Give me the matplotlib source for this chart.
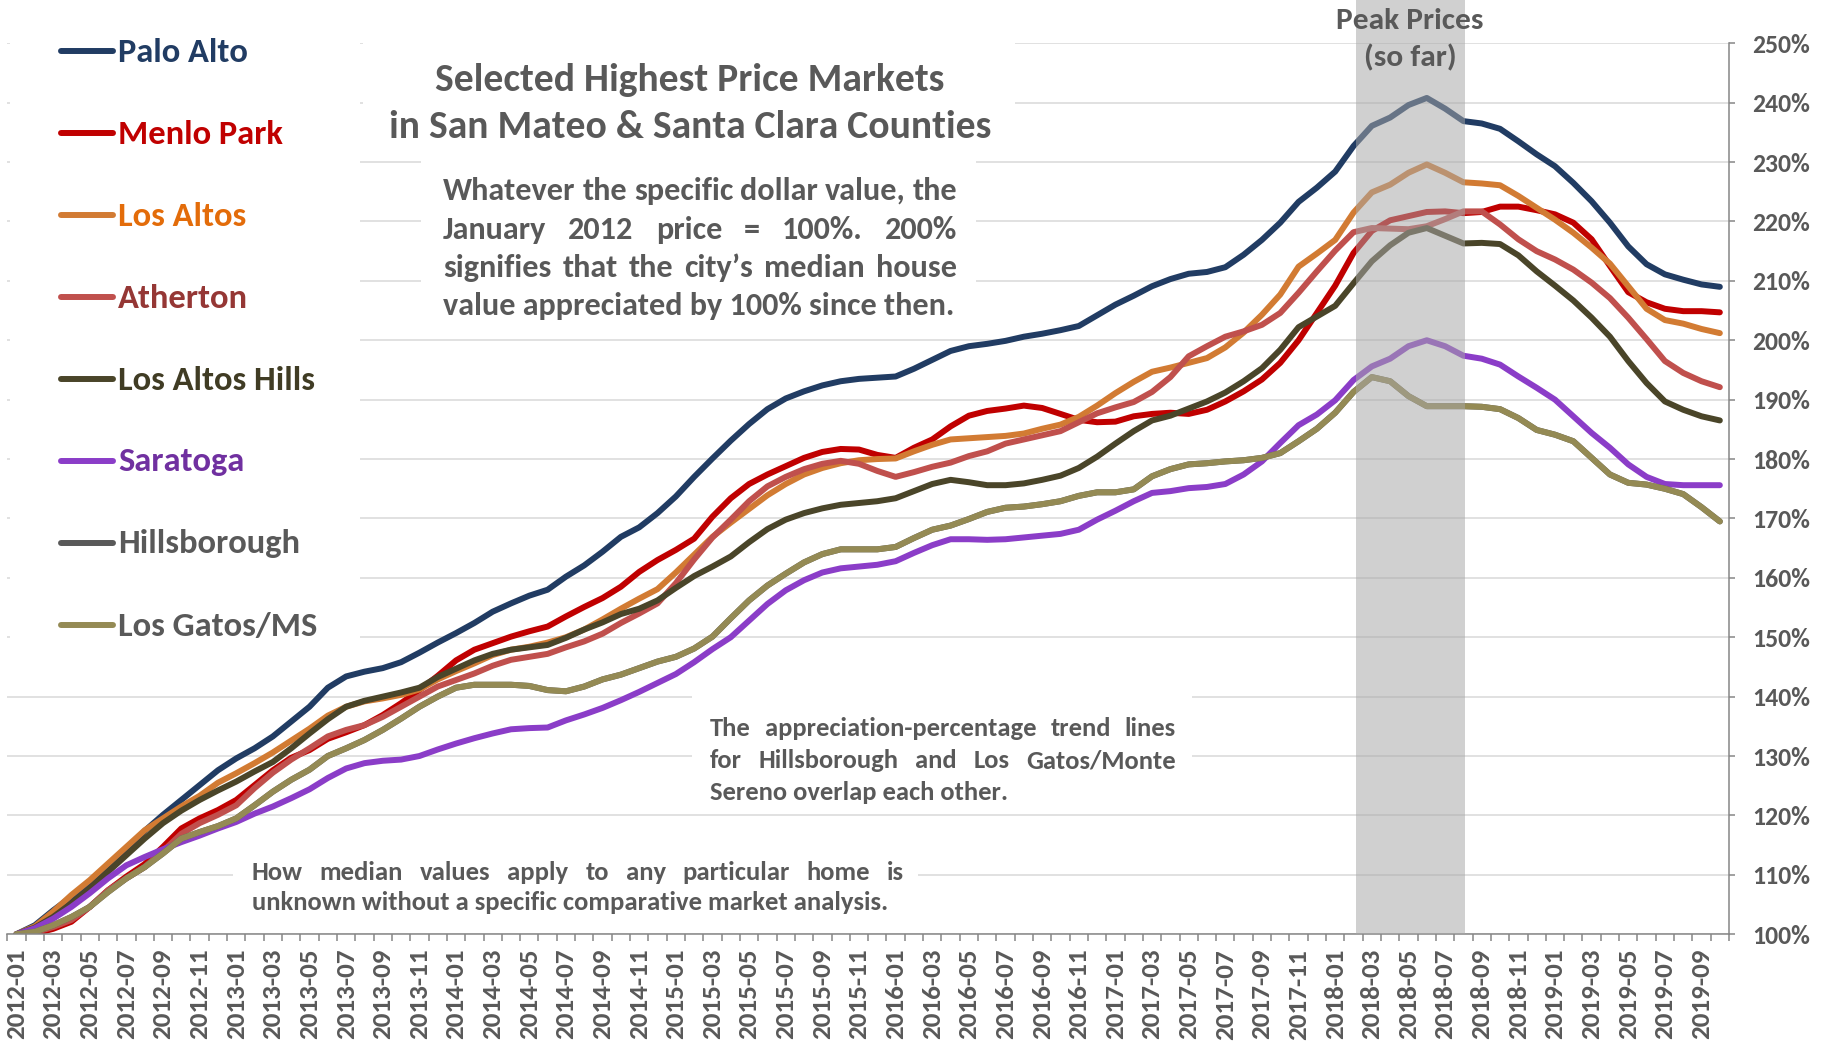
import matplotlib
matplotlib.use("Agg")
import matplotlib.pyplot as plt
import matplotlib.transforms as mtransforms
from matplotlib import font_manager
from matplotlib.patches import Rectangle
from matplotlib.lines import Line2D

# ---- data (percent of Jan 2012 median value) ----
months = [f"{y}-{m:02d}" for y in range(2012, 2020) for m in range(1, 13)][:94]

palo_alto = [100.0, 101.5, 104.0, 106.3, 108.3, 111.1, 113.9, 117.4, 120.1, 122.6,
             125.1, 127.6, 129.6, 131.3, 133.3, 135.8, 138.3, 141.5, 143.4, 144.2,
             144.8, 145.8, 147.4, 149.1, 150.7, 152.4, 154.3, 155.7, 157.0, 158.0,
             160.2, 162.1, 164.4, 166.9, 168.5, 170.9, 173.7, 177.0, 180.1, 183.1,
             185.9, 188.4, 190.2, 191.4, 192.4, 193.1, 193.5, 193.7, 193.9, 195.2,
             196.7, 198.2, 199.0, 199.4, 199.9, 200.6, 201.1, 201.7, 202.4, 204.2,
             206.0, 207.5, 209.1, 210.3, 211.2, 211.5, 212.3, 214.4, 216.9, 219.8,
             223.3, 225.7, 228.4, 232.7, 236.1, 237.5, 239.6, 240.8, 239.0, 236.9,
             236.5, 235.6, 233.5, 231.3, 229.3, 226.5, 223.4, 219.8, 215.8, 212.8,
             211.1, 210.2, 209.4, 209.0]

menlo_park = [100.0, 100.1, 100.9, 102.1, 104.6, 107.4, 109.7, 111.8, 114.7, 117.8,
              119.5, 120.9, 122.6, 125.1, 127.6, 129.7, 131.0, 132.9, 134.0, 135.2,
              136.9, 138.9, 141.1, 143.5, 146.1, 147.9, 149.0, 150.1, 151.0, 151.8,
              153.5, 155.1, 156.6, 158.5, 161.0, 163.0, 164.7, 166.6, 170.3, 173.4,
              175.8, 177.4, 178.8, 180.2, 181.2, 181.7, 181.6, 180.7, 180.2, 181.9,
              183.3, 185.5, 187.3, 188.1, 188.5, 189.0, 188.6, 187.6, 186.6, 186.2,
              186.3, 187.2, 187.6, 187.8, 187.6, 188.3, 189.7, 191.4, 193.4, 196.2,
              200.0, 204.6, 209.2, 214.7, 218.4, 220.2, 220.9, 221.6, 221.7, 221.4,
              221.6, 222.5, 222.5, 221.9, 221.2, 219.8, 217.0, 212.5, 208.1, 206.4,
              205.3, 204.9, 204.9, 204.7]

los_altos = [100.0, 101.3, 103.8, 106.6, 109.1, 111.9, 114.7, 117.5, 119.5, 121.5,
             123.3, 125.5, 127.1, 128.8, 130.6, 132.6, 134.6, 136.8, 138.3, 139.2,
             139.7, 140.3, 141.2, 142.9, 144.3, 145.6, 147.0, 147.9, 148.4, 149.1,
             150.0, 151.3, 153.0, 154.8, 156.5, 158.1, 160.9, 163.9, 166.9, 169.3,
             171.6, 173.9, 175.8, 177.4, 178.5, 179.3, 179.8, 180.0, 180.1, 181.3,
             182.4, 183.3, 183.5, 183.7, 183.9, 184.3, 185.1, 185.8, 187.1, 189.0,
             191.1, 193.0, 194.7, 195.4, 196.2, 197.0, 198.8, 201.3, 204.3, 207.7,
             212.4, 214.6, 216.9, 221.5, 224.9, 226.2, 228.2, 229.6, 228.2, 226.6,
             226.4, 226.1, 224.3, 222.3, 220.3, 218.1, 215.6, 212.9, 209.1, 205.3,
             203.4, 202.8, 201.9, 201.2]

atherton = [100.0, 100.3, 101.2, 102.4, 104.6, 107.4, 109.4, 111.3, 114.0, 116.9,
            118.7, 120.1, 121.7, 124.6, 127.2, 129.4, 131.3, 133.3, 134.4, 135.2,
            136.6, 138.3, 140.0, 141.7, 142.8, 143.9, 145.2, 146.2, 146.7, 147.2,
            148.3, 149.3, 150.6, 152.4, 154.0, 155.7, 159.1, 163.1, 166.8, 169.8,
            172.9, 175.4, 177.0, 178.3, 179.2, 179.7, 179.2, 178.0, 177.0, 177.8,
            178.7, 179.4, 180.5, 181.3, 182.6, 183.3, 184.0, 184.7, 186.2, 187.7,
            188.7, 189.6, 191.3, 193.8, 197.3, 199.0, 200.6, 201.5, 202.6, 204.6,
            208.0, 211.6, 215.1, 218.2, 218.9, 218.8, 218.7, 219.2, 220.4, 221.7,
            221.7, 219.5, 217.0, 215.0, 213.6, 211.9, 209.7, 207.1, 203.8, 200.2,
            196.5, 194.5, 193.1, 192.1]

los_altos_hills = [100.0, 101.1, 102.9, 105.2, 107.7, 110.5, 113.3, 116.1, 118.7, 120.8,
                   122.6, 124.2, 125.7, 127.4, 129.0, 131.3, 133.8, 136.2, 138.3, 139.3,
                   140.0, 140.7, 141.5, 143.3, 144.7, 146.1, 147.2, 147.9, 148.3, 148.7,
                   149.9, 151.3, 152.5, 153.9, 154.8, 156.2, 158.3, 160.3, 161.9, 163.6,
                   166.0, 168.2, 169.8, 170.9, 171.7, 172.3, 172.6, 172.9, 173.4, 174.6,
                   175.8, 176.5, 176.1, 175.6, 175.6, 175.9, 176.5, 177.2, 178.5, 180.4,
                   182.6, 184.7, 186.5, 187.3, 188.5, 189.7, 191.2, 193.1, 195.3, 198.4,
                   202.2, 204.0, 205.8, 209.6, 213.3, 216.0, 218.1, 218.9, 217.6, 216.3,
                   216.4, 216.2, 214.3, 211.6, 209.2, 206.7, 203.8, 200.6, 196.5, 192.8,
                   189.7, 188.3, 187.2, 186.5]

saratoga = [100.0, 101.0, 102.6, 104.6, 106.9, 109.4, 111.6, 113.0, 114.3, 115.5,
            116.6, 117.8, 118.9, 120.3, 121.5, 122.9, 124.4, 126.3, 127.9, 128.8,
            129.2, 129.4, 130.0, 131.1, 132.1, 133.0, 133.8, 134.5, 134.7, 134.8,
            136.0, 137.0, 138.1, 139.4, 140.8, 142.3, 143.8, 145.8, 148.0, 150.0,
            152.8, 155.6, 157.9, 159.6, 160.9, 161.6, 161.9, 162.2, 162.8, 164.2,
            165.5, 166.5, 166.5, 166.4, 166.5, 166.8, 167.1, 167.4, 168.1, 169.8,
            171.3, 172.9, 174.3, 174.6, 175.1, 175.3, 175.8, 177.4, 179.6, 182.7,
            185.7, 187.5, 189.9, 193.3, 195.6, 196.9, 199.0, 200.0, 199.0, 197.4,
            196.9, 195.9, 193.9, 192.0, 190.0, 187.2, 184.4, 181.9, 179.1, 177.0,
            175.8, 175.6, 175.6, 175.6]

los_gatos = [100.0, 100.4, 101.5, 102.9, 104.6, 107.1, 109.4, 111.3, 113.6, 116.1,
             117.2, 118.2, 119.5, 121.7, 124.0, 126.0, 127.7, 130.0, 131.3, 132.7,
             134.4, 136.3, 138.3, 140.0, 141.5, 142.0, 142.0, 142.0, 141.8, 141.1,
             140.9, 141.7, 142.9, 143.7, 144.8, 145.9, 146.7, 148.1, 150.1, 153.2,
             156.2, 158.7, 160.7, 162.6, 164.0, 164.8, 164.8, 164.8, 165.2, 166.7,
             168.1, 168.8, 169.9, 171.1, 171.8, 172.0, 172.4, 172.9, 173.8, 174.4,
             174.4, 174.9, 177.1, 178.3, 179.1, 179.3, 179.6, 179.8, 180.2, 181.0,
             183.0, 185.1, 187.8, 191.3, 193.8, 193.1, 190.6, 188.9, 188.9, 188.9,
             188.8, 188.4, 186.9, 184.9, 184.1, 183.0, 180.2, 177.4, 176.0, 175.7,
             175.0, 174.1, 171.9, 169.5]

# Hillsborough is hidden under Los Gatos/MS on the chart (the two coincide)
hillsborough = list(los_gatos)

names = ["Palo Alto", "Menlo Park", "Los Altos", "Atherton", "Los Altos Hills",
         "Saratoga", "Hillsborough", "Los Gatos/MS"]
series = [palo_alto, menlo_park, los_altos, atherton, los_altos_hills,
          saratoga, hillsborough, los_gatos]
line_colors = ["#213C63", "#C00000", "#D27B33", "#C0504D", "#4A4529",
               "#8B3DC8", "#595959", "#948A54"]
text_colors = ["#213C63", "#C00000", "#E36C0A", "#953735", "#403C24",
               "#7030A0", "#595959", "#595959"]

# ---- fonts ----
installed = {f.name for f in font_manager.fontManager.ttflist}
FONT = "Carlito" if "Carlito" in installed else "Lato"
plt.rcParams["font.family"] = [FONT, "DejaVu Sans"]
plt.rcParams["font.weight"] = "bold"
GRAY = "#595959"
AXIS = "#868686"

W, H = 1833, 1045
fig = plt.figure(figsize=(W / 100, H / 100), dpi=100)
ax = fig.add_axes([7.3 / W, 1 - 934.2 / H, (1729 - 7.3) / W, (934.2 - 43.3) / H])
# pixel coordinates of the picture (y down from the top)
px = mtransforms.Affine2D().scale(1 / W, -1 / H).translate(0, 1) + fig.transFigure
renderer = fig.canvas.get_renderer()


def width_of(s, size):
    t = fig.text(0, 0, s, fontsize=size, fontweight="bold")
    w = t.get_window_extent(renderer).width
    t.remove()
    return w


def fit(s, target):
    return 20 * target / width_of(s, 20)


def justified(lines, x0, x1, ys, size):
    for i, (line, y) in enumerate(zip(lines, ys)):
        if i == len(lines) - 1:
            fig.text(x0 / W, 1 - y / H, line, fontsize=size, color=GRAY,
                     ha="left", va="center", zorder=6)
            continue
        words = line.split()
        widths = [width_of(w_, size) for w_ in words]
        gap = (x1 - x0 - sum(widths)) / (len(words) - 1)
        x = x0
        for w_, ww in zip(words, widths):
            fig.text(x / W, 1 - y / H, w_, fontsize=size, color=GRAY,
                     ha="left", va="center", zorder=6)
            x += ww + gap


# ---- lines ----
x = list(range(len(months)))
for vals, c in zip(series, line_colors):
    ax.plot(x, vals, color=c, lw=4.3, solid_capstyle="round",
            solid_joinstyle="round", zorder=2)

# peak band drawn over the lines, reaching above the plot area
ax.axvspan(73.13, 79.1, ymin=0, ymax=1.06, color="#A7A7A7", alpha=0.53,
           lw=0, zorder=4, clip_on=False)

ax.set_xlim(-0.5, len(months) - 0.5)
ax.set_ylim(100, 250)
ax.set_axisbelow(True)
ax.grid(axis="y", color="#D9D9D9", lw=1.1)

ax.set_xticks(x[::2])
ax.set_xticklabels(months[::2], rotation=90)
ax.set_xticks([k - 0.5 for k in range(len(months) + 1)], minor=True)
ax.tick_params(axis="x", which="major", length=0, pad=10.5,
               labelsize=fit("2012-01", 91), labelcolor=GRAY)
ax.tick_params(axis="x", which="minor", length=5, width=1.1, color=AXIS)

ax.yaxis.tick_right()
yt = list(range(100, 251, 10))
ax.set_yticks(yt)
ax.set_yticklabels([f"{v}%" for v in yt])
ax.tick_params(axis="y", length=4.3, width=1.1, color=AXIS, pad=12.5,
               labelsize=fit("250%", 58), labelcolor=GRAY)

for s in ["top", "left"]:
    ax.spines[s].set_visible(False)
for s in ["right", "bottom"]:
    ax.spines[s].set_color(AXIS)
    ax.spines[s].set_linewidth(1.1)

# white text boxes that cut the gridlines
for x0, y0, x1, y1 in [(10, 30, 360, 665), (363, 30, 1015, 150), (421, 150, 976, 325),
                       (692, 688, 1192, 808), (233, 850, 918, 925)]:
    ax.add_patch(Rectangle((x0, y0), x1 - x0, y1 - y0, transform=px, fc="white",
                           ec="none", zorder=1, clip_on=False))

# ---- legend ----
leg_size = fit("Los Gatos/MS", 200)
for i, (n, lc, tc) in enumerate(zip(names, line_colors, text_colors)):
    y = 51 + i * 82
    fig.add_artist(Line2D([61, 113], [y, y], transform=px, color=lc, lw=4.3,
                          solid_capstyle="round"))
    fig.text(118 / W, 1 - (y + 1) / H, n, fontsize=leg_size, color=tc, va="center")

# ---- annotations ----
title_size = fit("in San Mateo & Santa Clara Counties", 603)
fig.text(690 / W, 1 - 80 / H, "Selected Highest Price Markets", fontsize=title_size,
         color=GRAY, ha="center", va="center")
fig.text(690 / W, 1 - 127 / H, "in San Mateo & Santa Clara Counties",
         fontsize=title_size, color=GRAY, ha="center", va="center")

para = ["Whatever the specific dollar value, the",
        "January 2012 price = 100%. 200%",
        "signifies that the city\u2019s median house",
        "value appreciated by 100% since then."]
justified(para, 443, 957, [191, 230, 268, 306], fit(para[-1], 511))

peak_size = fit("Peak Prices", 147)
fig.text(1410 / W, 1 - 21 / H, "Peak Prices", fontsize=peak_size, color=GRAY,
         ha="center", va="center", zorder=6)
fig.text(1410 / W, 1 - 58 / H, "(so far)", fontsize=peak_size, color=GRAY,
         ha="center", va="center", zorder=6)

note1 = ["The appreciation-percentage trend lines",
         "for Hillsborough and Los Gatos/Monte",
         "Sereno overlap each other."]
justified(note1, 710, 1176, [728, 761, 792], fit(note1[-1], 298))

note2 = ["How median values apply to any particular home is",
         "unknown without a specific comparative market analysis."]
justified(note2, 252, 904, [872, 903], fit(note2[-1], 635))

fig.savefig("out.png", dpi=100)
